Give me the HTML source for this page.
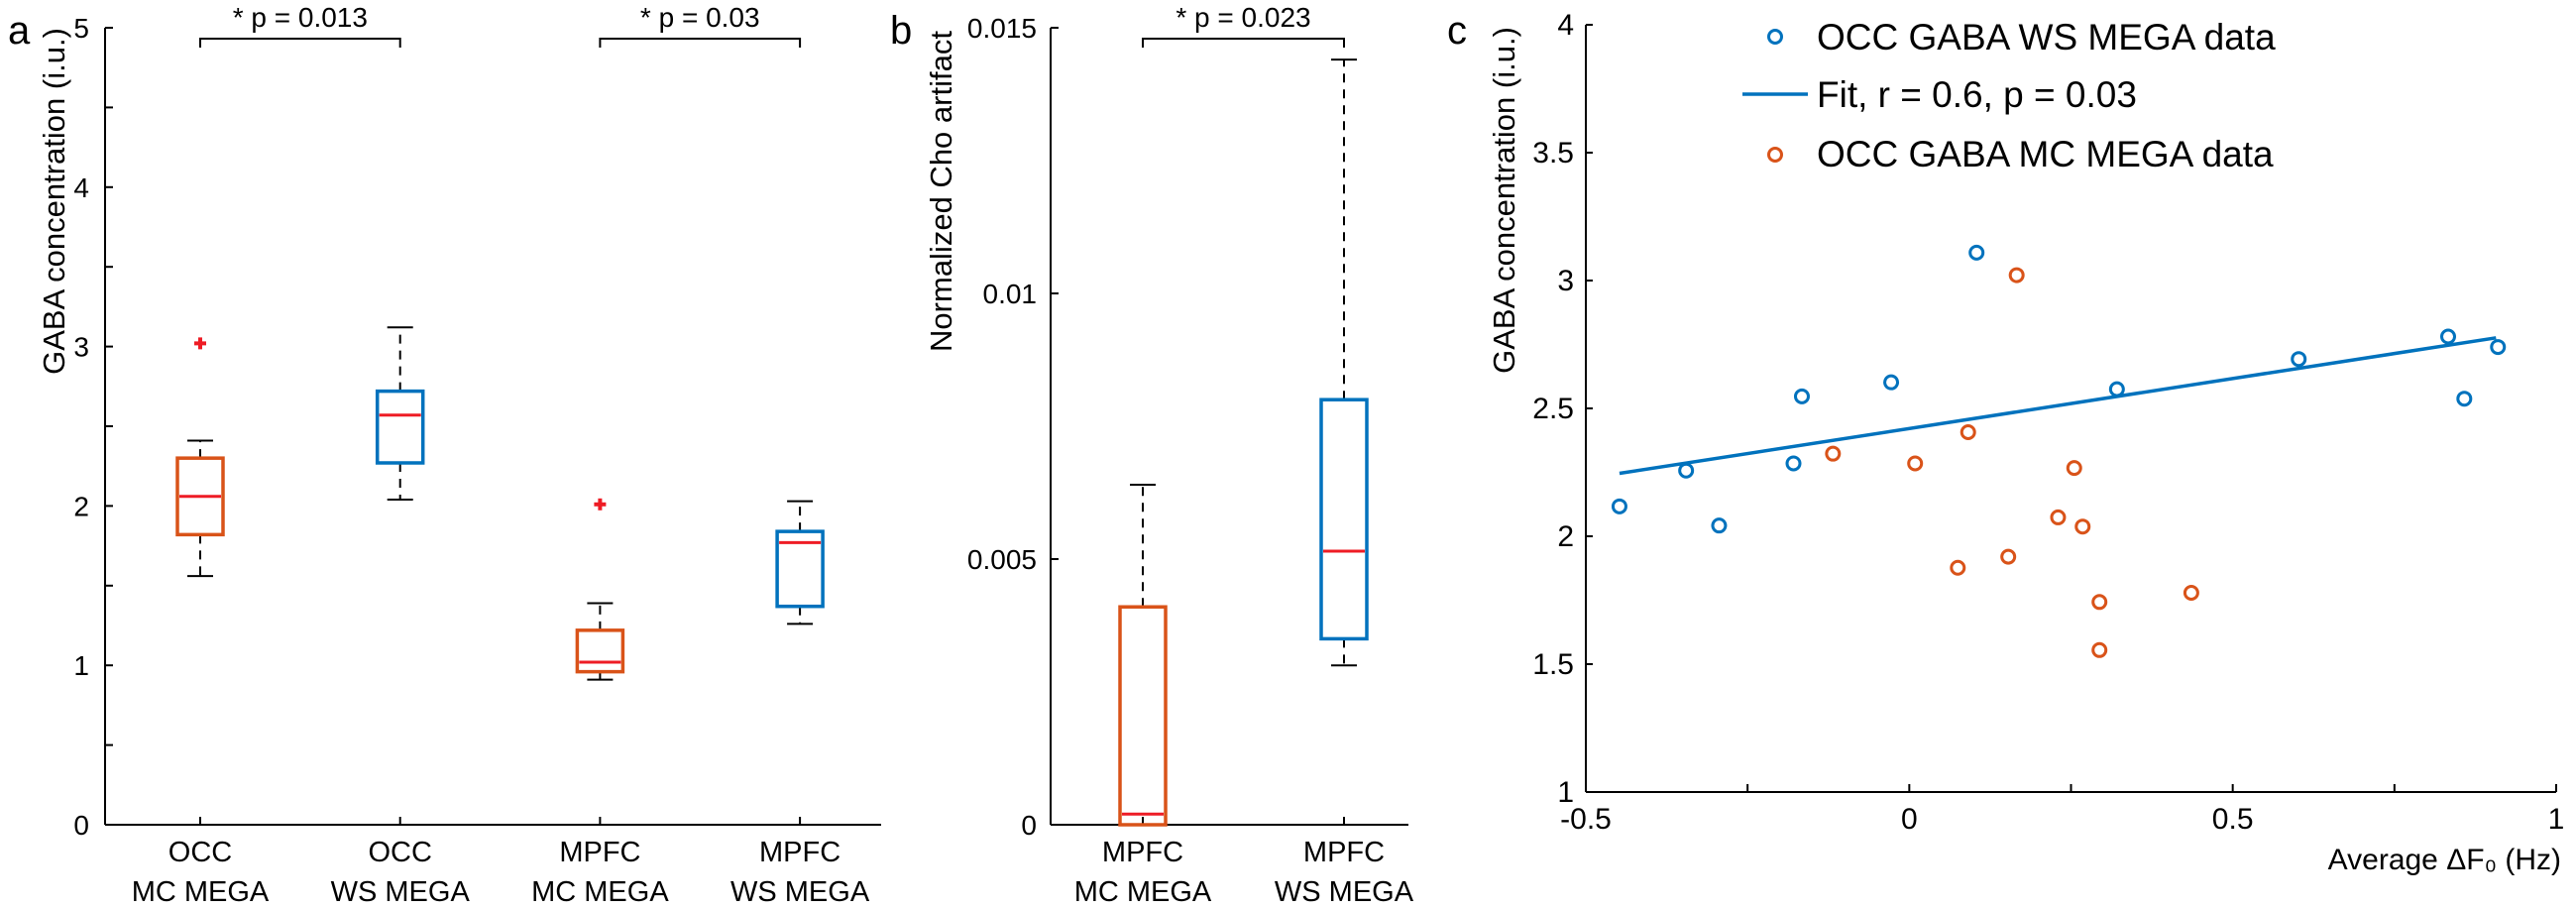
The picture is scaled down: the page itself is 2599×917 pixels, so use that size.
<!DOCTYPE html>
<html><head><meta charset="utf-8"><style>
html,body{margin:0;padding:0;background:#fff;}
svg{display:block;}
text{font-family:"Liberation Sans",sans-serif;fill:#000;}
.n{font-family:"Liberation Sans Narrow","Liberation Sans",sans-serif;}
</style></head><body>
<svg id="fig" width="2599" height="917" viewBox="0 0 2599 917" xmlns="http://www.w3.org/2000/svg">
<g id="pa"></g>
<g id="pb"></g>
<g id="pc"></g>
</svg>
<script>
// Panel a data
const aCats = [["OCC","MC MEGA"],["OCC","WS MEGA"],["MPFC","MC MEGA"],["MPFC","WS MEGA"]];
const aQ1 = [1.82, 2.27, 0.96, 1.37];
const aMed = [2.06, 2.57, 1.02, 1.77];
const aQ3 = [2.30, 2.72, 1.22, 1.84];
const aLo = [1.56, 2.04, 0.91, 1.26];
const aHi = [2.41, 3.12, 1.39, 2.03];
const aOut = [[3.02], [], [2.01], []];
const aColors = ["#D95319", "#0072BD", "#D95319", "#0072BD"];
const aTicks = [0, 1, 2, 3, 4, 5];
const aSig = [[0, 1, "* p = 0.013"], [2, 3, "* p = 0.03"]];
// Panel b data
const bCats = [["MPFC","MC MEGA"],["MPFC","WS MEGA"]];
const bQ1 = [0, 0.0035];
const bMed = [0.0002, 0.00515];
const bQ3 = [0.0041, 0.0080];
const bLo = [0, 0.0030];
const bHi = [0.0064, 0.0144];
const bColors = ["#D95319", "#0072BD"];
const bTicks = [0, 0.005, 0.01, 0.015];
const bTickLabels = ["0", "0.005", "0.01", "0.015"];
// Panel c data
const wsX = [-0.448, -0.345, -0.294, -0.179, -0.166, -0.028, 0.104, 0.321, 0.602, 0.833, 0.858, 0.910];
const wsY = [2.117, 2.257, 2.042, 2.285, 2.547, 2.602, 3.109, 2.575, 2.693, 2.781, 2.538, 2.740];
const mcX = [-0.118, 0.009, 0.091, 0.166, 0.075, 0.153, 0.230, 0.255, 0.268, 0.294, 0.294, 0.436];
const mcY = [2.323, 2.285, 2.407, 3.021, 1.877, 1.920, 2.074, 2.267, 2.038, 1.743, 1.555, 1.779];
const fitX = [-0.448, 0.907];
const fitY = [2.246, 2.776];
const cXTicks = [-0.5, -0.25, 0, 0.25, 0.5, 0.75, 1];
const cXLabels = ["-0.5", "", "0", "", "0.5", "", "1"];
const cYTicks = [1, 1.5, 2, 2.5, 3, 3.5, 4];
const cYLabels = ["1", "1.5", "2", "2.5", "3", "3.5", "4"];

const NS = "http://www.w3.org/2000/svg";
function mk(parent, tag, attrs, txt){
  const e = document.createElementNS(NS, tag);
  for (const k in attrs) e.setAttribute(k, attrs[k]);
  if (txt !== undefined) e.textContent = txt;
  parent.appendChild(e);
  return e;
}
function line(p, x1, y1, x2, y2, stroke, w, dash){
  const a = {x1:x1, y1:y1, x2:x2, y2:y2, stroke:stroke, "stroke-width":w};
  if (dash) a["stroke-dasharray"] = dash;
  return mk(p, "line", a);
}

function boxPlot(g, xs, ys, cats, q1, med, q3, lo, hi, outs, colors){
  for (let i = 0; i < cats.length; i++){
    const cx = xs(i), hw = 23;
    const bg = mk(g, "g", {});
    
    
    line(bg, cx, ys(q3[i]), cx, ys(hi[i]), "#000", 2, "9,7");
    line(bg, cx, ys(q1[i]), cx, ys(lo[i]), "#000", 2, "9,7");
    line(bg, cx-13, ys(hi[i]), cx+13, ys(hi[i]), "#000", 2);
    line(bg, cx-13, ys(lo[i]), cx+13, ys(lo[i]), "#000", 2);
    mk(bg, "rect", {x:cx-hw, y:ys(q3[i]), width:2*hw, height:Math.max(0, ys(q1[i])-ys(q3[i])), fill:"none", stroke:colors[i], "stroke-width":3.5});
    line(bg, cx-hw+2, ys(med[i]), cx+hw-2, ys(med[i]), "#EE1C25", 3);
    if (outs) for (const o of outs[i]){
      const oy = ys(o);
      line(bg, cx-6, oy, cx+6, oy, "#EE1C25", 4);
      line(bg, cx, oy-6, cx, oy+6, "#EE1C25", 4);
    }
  }
}
function catLabels(g, xs, cats, base){
  for (let i = 0; i < cats.length; i++){
    const t = mk(g, "text", {x:xs(i), y:base, "text-anchor":"middle", "font-size":29}, cats[i][0]);
    
    
    mk(g, "text", {x:xs(i), y:base+40, "text-anchor":"middle", "font-size":29}, cats[i][1]);
  }
}
function sig(g, x1, x2, label){
  const y = 39;
  mk(g, "path", {d:`M${x1} ${y+9}V${y}H${x2}V${y+9}`, fill:"none", stroke:"#000", "stroke-width":2});
  const t = mk(g, "text", {x:(x1+x2)/2, y:27, "text-anchor":"middle", "font-size":28}, label);
  
  
}

// ---------- Panel a ----------
(function(){
  const g = document.getElementById("pa");
  const L = 106, R = 889, T = 28, B = 832;
  const ys = v => B - (v / 5) * (B - T);
  const xs = i => 202 + i * 201.7;
  line(g, L, T, L, B, "#000", 2);
  line(g, L, B, R, B, "#000", 2);
  for (let v = 0; v <= 5; v += 0.5) line(g, L, ys(v), L+8, ys(v), "#000", 2);
  for (const v of aTicks){
    const t = mk(g, "text", {x:L-16, y:ys(v)+10, "text-anchor":"end", "font-size":28}, String(v));
    
    
  }
  for (let i = 0; i < aCats.length; i++) line(g, xs(i), B, xs(i), B-8, "#000", 2);
  boxPlot(g, xs, ys, aCats, aQ1, aMed, aQ3, aLo, aHi, aOut, aColors);
  catLabels(g, xs, aCats, 869);
  for (const s of aSig) sig(g, xs(s[0]), xs(s[1]), s[2]);
  const yt = mk(g, "text", {class:"n", x:0, y:0, transform:"translate(65,203) rotate(-90)", "text-anchor":"middle", "font-size":31}, "GABA concentration (i.u.)");
  
  
  const pl = mk(g, "text", {x:8, y:44, "font-size":40}, "a");
  
  
})();

// ---------- Panel b ----------
(function(){
  const g = document.getElementById("pb");
  const L = 1060, R = 1421, T = 28, B = 832;
  const ys = v => B - (v / 0.015) * (B - T);
  const xs = i => 1153 + i * 203;
  line(g, L, T, L, B, "#000", 2);
  line(g, L, B, R, B, "#000", 2);
  for (let i = 0; i < bTicks.length; i++){
    line(g, L, ys(bTicks[i]), L+8, ys(bTicks[i]), "#000", 2);
    const t = mk(g, "text", {x:L-14, y:ys(bTicks[i])+10, "text-anchor":"end", "font-size":28}, bTickLabels[i]);
    
    
  }
  for (let i = 0; i < bCats.length; i++) line(g, xs(i), B, xs(i), B-8, "#000", 2);
  boxPlot(g, xs, ys, bCats, bQ1, bMed, bQ3, bLo, bHi, null, bColors);
  catLabels(g, xs, bCats, 869);
  sig(g, xs(0), xs(1), "* p = 0.023");
  const yt = mk(g, "text", {class:"n", x:0, y:0, transform:"translate(960,193) rotate(-90)", "text-anchor":"middle", "font-size":31}, "Normalized Cho artifact");
  
  
  const pl = mk(g, "text", {x:898, y:44, "font-size":40}, "b");
  
  
})();

// ---------- Panel c ----------
(function(){
  const g = document.getElementById("pc");
  const L = 1600, R = 2579, T = 25, B = 799;
  const xs = v => L + (v + 0.5) / 1.5 * (R - L);
  const ys = v => B - (v - 1) / 3 * (B - T);
  line(g, L, T, L, B, "#000", 2);
  line(g, L, B, R, B, "#000", 2);
  for (let i = 0; i < cYTicks.length; i++){
    line(g, L, ys(cYTicks[i]), L+7, ys(cYTicks[i]), "#000", 2);
    const t = mk(g, "text", {class:"n", x:L-12, y:ys(cYTicks[i])+10, "text-anchor":"end", "font-size":30}, cYLabels[i]);
    
    
  }
  for (let i = 0; i < cXTicks.length; i++){
    line(g, xs(cXTicks[i]), B, xs(cXTicks[i]), B-8, "#000", 2);
    if (cXLabels[i]){
      const t = mk(g, "text", {class:"n", x:xs(cXTicks[i]), y:B+37, "text-anchor":"middle", "font-size":30}, cXLabels[i]);
      
      
    }
  }
  const fit = mk(g, "line", {x1:xs(fitX[0]), y1:ys(fitY[0]), x2:xs(fitX[1]), y2:ys(fitY[1]), stroke:"#0072BD", "stroke-width":3.5});
  
  
  for (let i = 0; i < wsX.length; i++){
    const c = mk(g, "circle", {cx:xs(wsX[i]), cy:ys(wsY[i]), r:6.5, fill:"none", stroke:"#0072BD", "stroke-width":3});
    
    
  }
  for (let i = 0; i < mcX.length; i++){
    const c = mk(g, "circle", {cx:xs(mcX[i]), cy:ys(mcY[i]), r:6.5, fill:"none", stroke:"#D95319", "stroke-width":3});
    
    
  }
  // legend
  const lg = mk(g, "g", {});
  
  
  const e1 = mk(lg, "circle", {cx:1791, cy:37, r:6.5, fill:"none", stroke:"#0072BD", "stroke-width":3});
  
  
  mk(lg, "text", {class:"n", x:1833, y:50, "font-size":37}, "OCC GABA WS MEGA data");
  const e2 = mk(lg, "line", {x1:1758, y1:95, x2:1824, y2:95, stroke:"#0072BD", "stroke-width":3.5});
  
  
  mk(lg, "text", {class:"n", x:1833, y:108, "font-size":37}, "Fit, r = 0.6, p = 0.03");
  const e3 = mk(lg, "circle", {cx:1791, cy:156, r:6.5, fill:"none", stroke:"#D95319", "stroke-width":3});
  
  
  mk(lg, "text", {class:"n", x:1833, y:168, "font-size":37}, "OCC GABA MC MEGA data");
  const xt = mk(g, "text", {class:"n", x:2584, y:877, "text-anchor":"end", "font-size":30}, "Average ΔF₀ (Hz)");
  
  
  const yt = mk(g, "text", {class:"n", x:0, y:0, transform:"translate(1528,202) rotate(-90)", "text-anchor":"middle", "font-size":31}, "GABA concentration (i.u.)");
  
  
  const pl = mk(g, "text", {x:1460, y:44, "font-size":40}, "c");
  
  
})();
</script>
</body></html>
